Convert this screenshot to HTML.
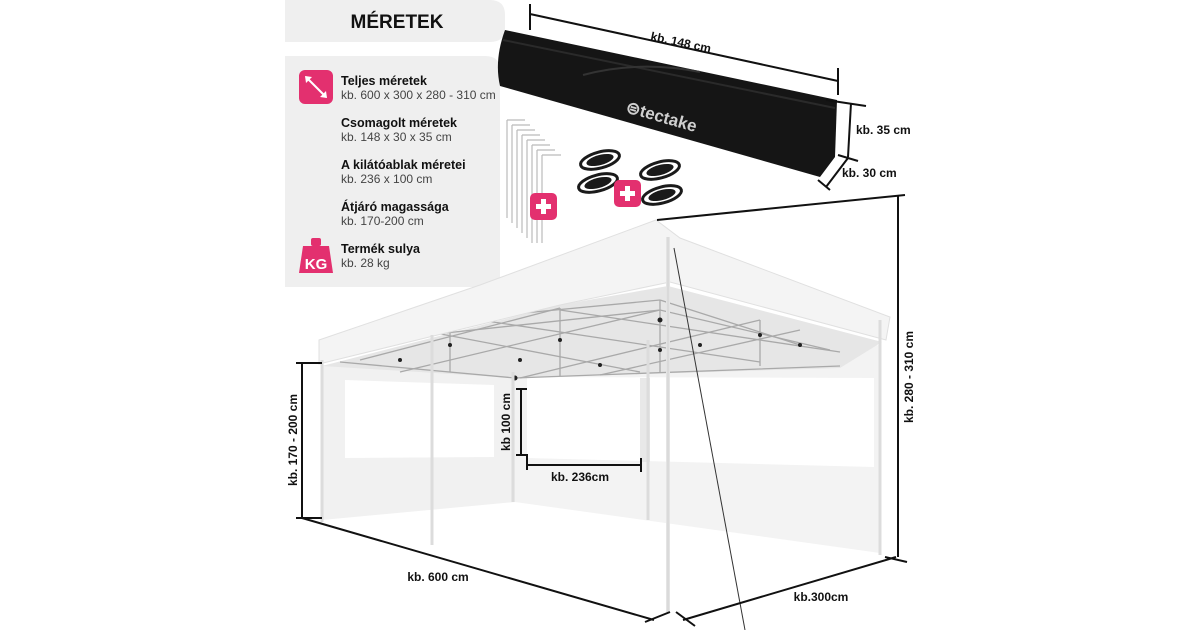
<!DOCTYPE html>
<html><head><meta charset="utf-8"><style>
html,body{margin:0;padding:0;background:#fff;}
body{width:1200px;height:630px;overflow:hidden;position:relative;font-family:"Liberation Sans",sans-serif;}
</style></head><body>
<svg width="1200" height="630" viewBox="0 0 1200 630" xmlns="http://www.w3.org/2000/svg" style="position:absolute;left:0;top:0;font-family:'Liberation Sans',sans-serif">
<path d="M285 0 H490 Q505 0 505 15 V28 Q505 42 490 42 H285 Z" fill="#efefef"/>
<text x="397" y="28" text-anchor="middle" font-size="19" font-weight="bold" fill="#111">MÉRETEK</text>
<path d="M285 56 H485 Q500 56 500 70 V287 H285 Z" fill="#efefef"/>
<rect x="299" y="70" width="34" height="34" rx="6" fill="#e3306f"/>
<line x1="306" y1="77" x2="326" y2="97" stroke="#fff" stroke-width="2"/>
<path d="M305 76 l7 1 l-6 6 z M327 98 l-7 -1 l6 -6 z" fill="#fff"/>
<g font-size="12.5" fill="#111">
<text x="341" y="85" font-weight="bold">Teljes méretek</text>
<text x="341" y="99" fill="#444" font-size="12">kb. 600 x 300 x 280 - 310 cm</text>
<text x="341" y="127" font-weight="bold">Csomagolt méretek</text>
<text x="341" y="141" fill="#444" font-size="12">kb. 148 x 30 x 35 cm</text>
<text x="341" y="169" font-weight="bold">A kilátóablak méretei</text>
<text x="341" y="183" fill="#444" font-size="12">kb. 236 x 100 cm</text>
<text x="341" y="211" font-weight="bold">Átjáró magassága</text>
<text x="341" y="225" fill="#444" font-size="12">kb. 170-200 cm</text>
<text x="341" y="253" font-weight="bold">Termék sulya</text>
<text x="341" y="267" fill="#444" font-size="12">kb. 28 kg</text>
</g>
<rect x="311" y="238" width="10" height="8" rx="2" fill="#e3306f"/>
<path d="M303 246 H329 L333 273 H299 Z" fill="#e3306f"/>
<text x="316" y="269" text-anchor="middle" font-size="15" font-weight="bold" fill="#fff">KG</text>
<g stroke="#bbb" stroke-width="1.2" fill="none">
<path d="M507 120 V218 M507 120 H525"/><path d="M512 125 V223 M512 125 H530"/><path d="M517 130 V228 M517 130 H535"/>
<path d="M522 135 V233 M522 135 H540"/><path d="M527 140 V238 M527 140 H545"/><path d="M532 145 V243 M532 145 H550"/>
<path d="M537 150 V243 M537 150 H555"/><path d="M542 155 V243 M542 155 H561"/>
</g>
<rect x="530" y="193" width="27" height="27" rx="5" fill="#e3306f"/>
<path d="M543.5 199 V214 M536 206.5 H551" stroke="#fff" stroke-width="5"/>
<g fill="none" stroke="#1a1a1a" stroke-width="3">
<ellipse cx="600" cy="160" rx="20" ry="8" transform="rotate(-15 600 160)"/>
<ellipse cx="598" cy="183" rx="20" ry="8" transform="rotate(-15 598 183)"/>
<ellipse cx="660" cy="170" rx="20" ry="8" transform="rotate(-15 660 170)"/>
<ellipse cx="662" cy="195" rx="20" ry="8" transform="rotate(-15 662 195)"/>
</g>
<g fill="#1a1a1a">
<ellipse cx="600" cy="160" rx="14" ry="5" transform="rotate(-15 600 160)"/>
<ellipse cx="598" cy="183" rx="14" ry="5" transform="rotate(-15 598 183)"/>
<ellipse cx="660" cy="170" rx="14" ry="5" transform="rotate(-15 660 170)"/>
<ellipse cx="662" cy="195" rx="14" ry="5" transform="rotate(-15 662 195)"/>
</g>
<rect x="614" y="180" width="27" height="27" rx="5" fill="#e3306f"/>
<path d="M627.5 186 V201 M620 193.5 H635" stroke="#fff" stroke-width="5"/>
<path d="M505 30 L837 100 L835 157 L820 177 L500 86 Q494 60 505 30 Z" fill="#151515"/>
<path d="M503 40 L835 108" stroke="#2a2a2a" stroke-width="2"/>
<path d="M583 75 Q640 60 700 72" stroke="#333" stroke-width="2" fill="none"/>
<text x="625" y="112" font-size="17" font-weight="bold" fill="#cfcfcf" transform="rotate(16 625 112)">⊜tectake</text>
<g stroke="#111" stroke-width="2" fill="none">
<path d="M530 4 V30 M838 68 V95 M530 14 L838 81"/>
<path d="M826 100 L866 106 M851 103 L848 157 M838 155 L858 161"/>
<path d="M848 158 L826 187 M818 180 L830 190"/>
</g>
<g font-size="12" font-weight="bold" fill="#111">
<text x="650" y="40" transform="rotate(12 650 40)">kb. 148 cm</text>
<text x="856" y="134">kb. 35 cm</text>
<text x="842" y="177">kb. 30 cm</text>
</g>
<path d="M322 365 L515 378 L515 502 L322 520 Z" fill="#f1f1f1"/>
<path d="M345 380 L494 385 L494 457 L345 458 Z" fill="#fff"/>
<path d="M515 378 L880 345 L880 553 L515 502 Z" fill="#f3f3f3"/>
<path d="M527 377 L874 378 L874 467 L527 458 Z" fill="#fff"/>
<path d="M640 378 L650 378 L650 462 L640 462 Z" fill="#e8e8e8"/>
<path d="M322 366 L560 305 L668 286 L882 342 L840 368 L515 378 Z" fill="#e6e6e6"/>
<g stroke="#a9a9a9" stroke-width="1.3" fill="none">
<path d="M340 362 L515 378 L840 366"/><path d="M380 340 L660 310 L830 350"/><path d="M450 320 L660 300"/>
<path d="M360 360 L560 308 M400 372 L660 310 M520 378 L760 320 M600 375 L800 330 M420 330 L640 372 M480 320 L760 362 M560 310 L840 352 M660 300 L800 345"/>
<path d="M450 325 L450 372 M560 308 L560 376 M660 300 L660 372 M760 320 L760 366"/>
</g>
<g fill="#222"><circle cx="450" cy="345" r="2"/><circle cx="520" cy="360" r="2"/><circle cx="560" cy="340" r="2"/><circle cx="600" cy="365" r="2"/><circle cx="660" cy="320" r="2.5"/><circle cx="660" cy="350" r="2"/><circle cx="700" cy="345" r="2"/><circle cx="760" cy="335" r="2"/><circle cx="800" cy="345" r="2"/><circle cx="515" cy="378" r="2.5"/><circle cx="400" cy="360" r="2"/></g>
<path d="M319 340 L480 285 L656 220 L680 238 L890 317 L886 340 L670 282 L560 305 L319 364 Z" fill="#f4f4f4" stroke="#e0e0e0"/>
<g stroke="#dcdcdc" stroke-width="3">
<path d="M322 360 V522 M432 335 V545 M513 372 V502 M648 340 V520 M880 320 V555"/>
</g>
<path d="M668 237 V612" stroke="#e4e4e4" stroke-width="4"/>
<path d="M668 237 V612" stroke="#cfcfcf" stroke-width="1"/>
<path d="M674 248 L745 630" stroke="#333" stroke-width="1"/>
<g stroke="#111" stroke-width="2" fill="none">
<path d="M296 363 H322 M302 363 V518 M296 518 H322"/>
<path d="M302 518 L654 620 M645 622 L670 612"/>
<path d="M683 620 L896 557 M676 612 L695 626"/>
<path d="M657 220 L905 195 M898 195 V557 M885 557 L907 562"/>
<path d="M516 389 H527 M521 389 V455 M516 455 H527 M521 455 H527 V463"/>
<path d="M527 458 V470 M527 465 H641 M641 458 V472"/>
</g>
<g font-size="12" font-weight="bold" fill="#111">
<text x="438" y="581" text-anchor="middle">kb. 600 cm</text>
<text x="821" y="601" text-anchor="middle">kb.300cm</text>
<text x="580" y="481" text-anchor="middle">kb. 236cm</text>
<text transform="translate(297 440) rotate(-90)" text-anchor="middle">kb. 170 - 200 cm</text>
<text transform="translate(913 377) rotate(-90)" text-anchor="middle">kb. 280 - 310 cm</text>
<text transform="translate(510 422) rotate(-90)" text-anchor="middle">kb 100 cm</text>
</g>
</svg>
</body></html>
